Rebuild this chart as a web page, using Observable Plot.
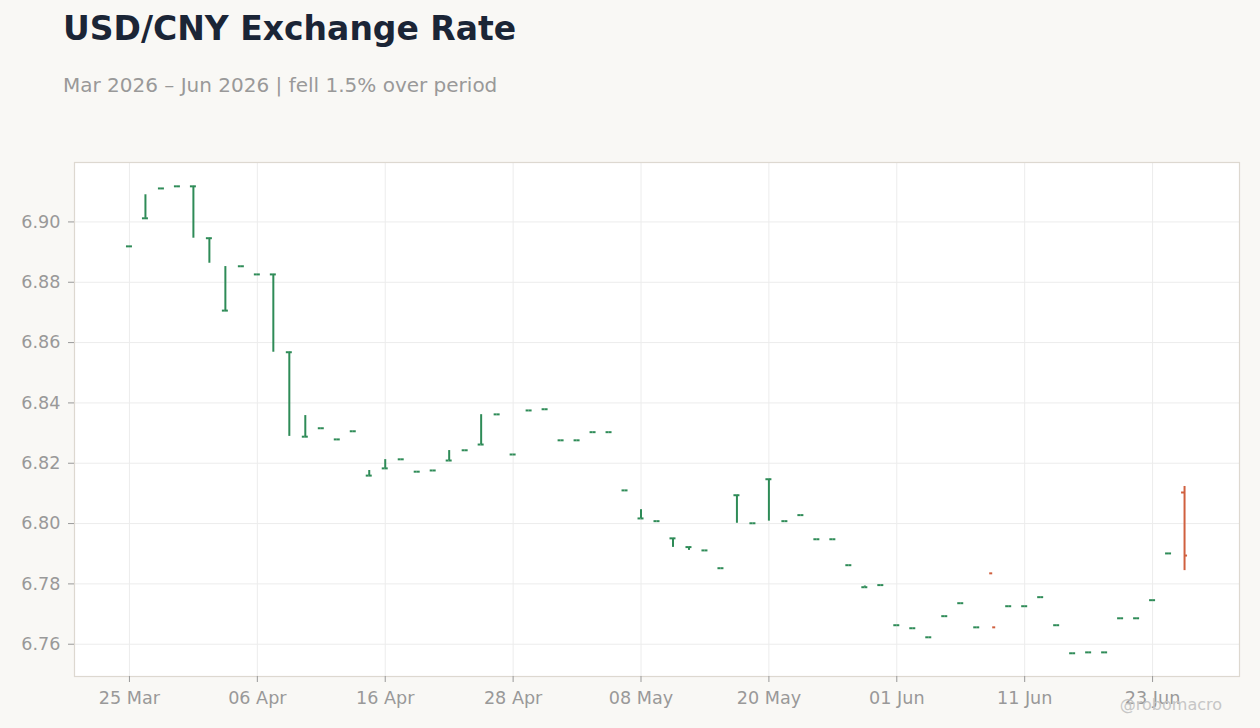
<!DOCTYPE html>
<html>
<head>
<meta charset="utf-8">
<script src="https://cdn.jsdelivr.net/npm/d3@7"></script>
<script src="https://cdn.jsdelivr.net/npm/@observablehq/plot@0.6"></script>
<style>
  html, body { margin: 0; padding: 0; background: #f9f8f5; }
  body { width: 1260px; height: 728px; position: relative; overflow: hidden; font-family: "DejaVu Sans", sans-serif; }
  #title { position: absolute; left: 63px; top: 11.6px; font-size: 33px; line-height: 1; font-weight: bold; color: #1b2536; white-space: nowrap; }
  #subtitle { position: absolute; left: 63px; top: 75px; font-size: 20px; line-height: 1; color: #999999; white-space: nowrap; }
  #chart { position: absolute; left: 0; top: 110px; }
  #credit { position: absolute; right: 38px; top: 696.5px; font-size: 16px; line-height: 1; color: #c6c6c6; white-space: nowrap; }
</style>
</head>
<body>
<div id="title">USD/CNY Exchange Rate</div>
<div id="subtitle">Mar 2026 – Jun 2026 | fell 1.5% over period</div>
<div id="chart"></div>
<div id="credit">@robomacro</div>
<script>
// Trading days
const dates = [
  "2026-03-25","2026-03-26","2026-03-27","2026-03-30","2026-03-31",
  "2026-04-01","2026-04-02","2026-04-03","2026-04-06","2026-04-07","2026-04-08","2026-04-09","2026-04-10",
  "2026-04-13","2026-04-14","2026-04-15","2026-04-16","2026-04-17","2026-04-20","2026-04-21","2026-04-22",
  "2026-04-23","2026-04-24","2026-04-27","2026-04-28","2026-04-29","2026-04-30",
  "2026-05-01","2026-05-04","2026-05-05","2026-05-06","2026-05-07","2026-05-08","2026-05-11","2026-05-12",
  "2026-05-13","2026-05-14","2026-05-15","2026-05-18","2026-05-19","2026-05-20","2026-05-21","2026-05-22",
  "2026-05-25","2026-05-26","2026-05-27","2026-05-28","2026-05-29",
  "2026-06-01","2026-06-02","2026-06-03","2026-06-04","2026-06-05","2026-06-08","2026-06-09","2026-06-10",
  "2026-06-11","2026-06-12","2026-06-15","2026-06-16","2026-06-17","2026-06-18","2026-06-19","2026-06-22",
  "2026-06-23","2026-06-24","2026-06-25"
];
const openV = [
  6.8919,6.9012,6.9111,6.9118,6.9118,
  6.8946,6.8706,6.8853,6.8826,6.8826,6.8568,6.8288,6.8316,
  6.8279,6.8306,6.8159,6.8183,6.8213,6.8172,6.8176,6.8209,
  6.8243,6.8262,6.8362,6.8229,6.8375,6.8379,
  6.8276,6.8276,6.8303,6.8303,6.8110,6.8017,6.8008,6.7951,
  6.7922,6.7911,6.7852,6.8094,6.8001,6.8147,6.8008,6.8028,
  6.7948,6.7948,6.7862,6.7789,6.7796,
  6.7663,6.7653,6.7623,6.7693,6.7736,6.7656,6.7835,6.7726,
  6.7726,6.7756,6.7663,6.7570,6.7573,6.7573,6.7686,6.7686,
  6.7746,6.7901,6.8103
];
const highV = [
  6.8919,6.9090,6.9111,6.9118,6.9118,
  6.8946,6.8852,6.8853,6.8826,6.8826,6.8568,6.8358,6.8316,
  6.8279,6.8306,6.8176,6.8212,6.8213,6.8172,6.8176,6.8242,
  6.8243,6.8361,6.8362,6.8229,6.8375,6.8379,
  6.8276,6.8276,6.8303,6.8303,6.8110,6.8046,6.8008,6.7951,
  6.7922,6.7911,6.7852,6.8094,6.8001,6.8147,6.8008,6.8028,
  6.7948,6.7948,6.7862,6.7793,6.7796,
  6.7663,6.7653,6.7623,6.7693,6.7736,6.7656,null,6.7726,
  6.7726,6.7756,6.7663,6.7570,6.7573,6.7573,6.7686,6.7686,
  6.7746,6.7901,6.8123
];
const lowV = [
  6.8919,6.9012,6.9111,6.9118,6.8946,
  6.8863,6.8706,6.8853,6.8826,6.8568,6.8289,6.8288,6.8316,
  6.8279,6.8306,6.8159,6.8183,6.8213,6.8172,6.8176,6.8209,
  6.8243,6.8262,6.8362,6.8229,6.8375,6.8379,
  6.8276,6.8276,6.8303,6.8303,6.8110,6.8017,6.8008,6.7921,
  6.7911,6.7911,6.7852,6.8001,6.8001,6.8008,6.8008,6.8028,
  6.7948,6.7948,6.7862,6.7789,6.7796,
  6.7663,6.7653,6.7623,6.7693,6.7736,6.7656,null,6.7726,
  6.7726,6.7756,6.7663,6.7570,6.7573,6.7573,6.7686,6.7686,
  6.7746,6.7901,6.7844
];
const closeV = [
  6.8919,6.9012,6.9111,6.9118,6.9118,
  6.8946,6.8706,6.8853,6.8826,6.8826,6.8568,6.8288,6.8316,
  6.8279,6.8306,6.8159,6.8183,6.8213,6.8172,6.8176,6.8209,
  6.8243,6.8262,6.8362,6.8229,6.8375,6.8379,
  6.8276,6.8276,6.8303,6.8303,6.8110,6.8017,6.8008,6.7951,
  6.7922,6.7911,6.7852,6.8094,6.8001,6.8147,6.8008,6.8028,
  6.7948,6.7948,6.7862,6.7789,6.7796,
  6.7663,6.7653,6.7623,6.7693,6.7736,6.7656,6.7656,6.7726,
  6.7726,6.7756,6.7663,6.7570,6.7573,6.7573,6.7686,6.7686,
  6.7746,6.7901,6.7894
];
const xTickDates = ["2026-03-25","2026-04-06","2026-04-16","2026-04-28","2026-05-08","2026-05-20","2026-06-01","2026-06-11","2026-06-23"];
const xTickLabels = ["25 Mar","06 Apr","16 Apr","28 Apr","08 May","20 May","01 Jun","11 Jun","23 Jun"];
const yTicks = [6.76, 6.78, 6.80, 6.82, 6.84, 6.86, 6.88, 6.90];

const UP = "#2e8b57", DOWN = "#d0603f";
const rows = dates.map((d, i) => ({date: d, open: openV[i], high: highV[i], low: lowV[i], close: closeV[i]}));
const col = d => (d.close >= d.open ? UP : DOWN);
const labelOf = d => xTickLabels[xTickDates.indexOf(d)];

const pIn = 0.625, pOut = 3.25;
const step = (1260 - 74 - 21) / (dates.length - pIn + 2 * pOut);
const half = step * (1 - pIn) / 2;

const chart = Plot.plot({
  width: 1260,
  height: 618,
  marginTop: 52,
  marginLeft: 74,
  marginRight: 21,
  marginBottom: 52,
  style: {background: "transparent", fontFamily: "DejaVu Sans, sans-serif", overflow: "visible"},
  x: {type: "band", domain: dates, paddingInner: pIn, paddingOuter: pOut, round: false},
  y: {domain: [6.7493, 6.9197]},
  color: {type: "identity"},
  marks: [
    Plot.frame({fill: "white", stroke: null}),
    Plot.gridX({ticks: xTickDates, stroke: "#ececec", strokeOpacity: 1, strokeWidth: 1}),
    Plot.gridY({ticks: yTicks, stroke: "#ececec", strokeOpacity: 1, strokeWidth: 1}),
    Plot.ruleX(rows.filter(d => d.high != null && d.low != null), {x: "date", y1: "low", y2: "high", stroke: col, strokeWidth: 2}),
    Plot.tickY(rows, {x: "date", y: "open", stroke: col, strokeWidth: 2, insetRight: half}),
    Plot.tickY(rows, {x: "date", y: "close", stroke: col, strokeWidth: 2, insetLeft: half}),
    Plot.frame({stroke: "#ddd8d0", strokeWidth: 1.2}),
    Plot.axisY({ticks: yTicks, tickFormat: d3.format(".2f"), tickSize: 6, tickPadding: 8, fontSize: 17.6, color: "#999999", label: null}),
    Plot.axisX({ticks: xTickDates, tickFormat: labelOf, tickSize: 6, tickPadding: 9, fontSize: 17.6, color: "#999999", label: null})
  ]
});
document.getElementById("chart").appendChild(chart);
</script>
</body>
</html>
